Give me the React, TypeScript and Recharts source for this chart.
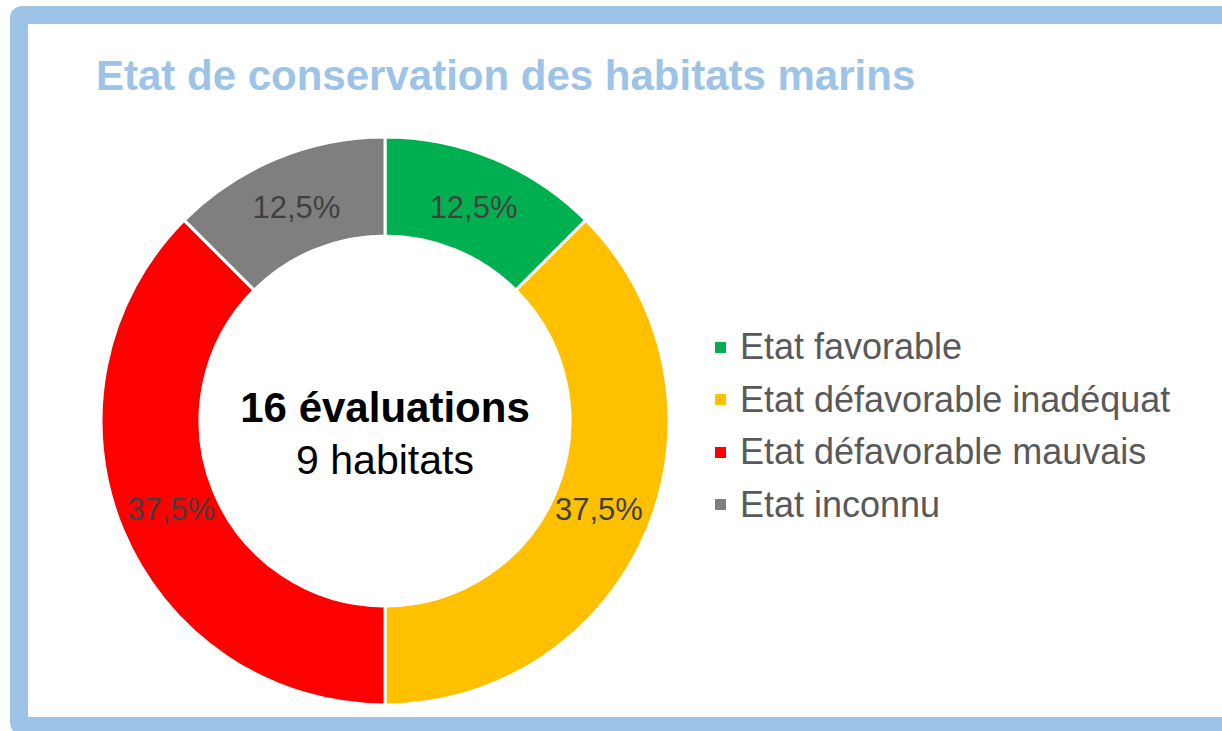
import React from 'react';
import { PieChart, Pie, Cell, Legend } from 'recharts';

const categories = [
  'Etat favorable',
  'Etat défavorable inadéquat',
  'Etat défavorable mauvais',
  'Etat inconnu',
];
const counts = [2, 6, 6, 2];
const colors = ['#00B050', '#FFC000', '#FF0000', '#7F7F7F'];
const titleText = 'Etat de conservation des habitats marins';
const centerLine1 = '16 évaluations';
const centerLine2 = '9 habitats';

const FONT = '"Liberation Sans", Arial, sans-serif';
const total = counts.reduce((a, b) => a + b, 0);
const data = categories.map((name, i) => ({
  name,
  value: counts[i],
  label: ((counts[i] / total) * 100).toFixed(1).replace('.', ',') + '%',
}));

const RAD = Math.PI / 180;
const CX = 385;
const CY = 421;

const renderLabel = (props: any) => {
  const { cx, cy, midAngle, innerRadius, outerRadius, index } = props;
  const r = (innerRadius + outerRadius) / 2 - 3;
  const x = cx + r * Math.cos(-midAngle * RAD);
  const y = cy + r * Math.sin(-midAngle * RAD);
  return (
    <text
      x={x}
      y={y}
      textAnchor="middle"
      dominantBaseline="central"
      fill="#404040"
      fontFamily={FONT}
      fontSize={31}
    >
      {data[index].label}
    </text>
  );
};

const renderLegend = () => {
  return (
    <div style={{ fontFamily: FONT }}>
      {data.map((d, i) => (
        <div
          key={d.name}
          style={{
            display: 'flex',
            alignItems: 'center',
            height: 52.5,
            fontSize: 36,
            color: '#595959',
            whiteSpace: 'nowrap',
          }}
        >
          <span
            style={{
              display: 'inline-block',
              width: 11,
              height: 11,
              background: colors[i],
              marginRight: 14,
            }}
          />
          <span>{d.name}</span>
        </div>
      ))}
    </div>
  );
};

export default function App() {
  return (
    <div
      style={{
        position: 'absolute',
        left: 0,
        top: 0,
        width: 1222,
        height: 731,
        overflow: 'hidden',
        background: '#ffffff',
      }}
    >
      <div
        style={{
          position: 'absolute',
          left: 10,
          top: 6,
          width: 1250,
          height: 729,
          boxSizing: 'border-box',
          border: '18px solid #9DC3E6',
          borderRadius: 12,
          background: '#ffffff',
        }}
      />
      <div
        style={{
          position: 'absolute',
          left: 96,
          top: 55,
          fontFamily: FONT,
          fontSize: 42,
          lineHeight: '42px',
          fontWeight: 'bold',
          color: '#9DC3E6',
          whiteSpace: 'nowrap',
        }}
      >
        {titleText}
      </div>
      <div style={{ position: 'absolute', left: 0, top: 0 }}>
        <PieChart width={1222} height={731} margin={{ top: 0, right: 0, bottom: 0, left: 0 }}>
          <Pie
            data={data}
            dataKey="value"
            nameKey="name"
            cx={CX}
            cy={CY}
            innerRadius={185}
            outerRadius={284}
            startAngle={90}
            endAngle={-270}
            stroke="#ffffff"
            strokeWidth={3}
            label={renderLabel}
            labelLine={false}
            isAnimationActive={false}
          >
            {data.map((d, i) => (
              <Cell key={d.name} fill={colors[i]} />
            ))}
          </Pie>
          <Legend
            layout="vertical"
            content={renderLegend}
            wrapperStyle={{ position: 'absolute', left: 715, top: 321, width: 500 }}
          />
        </PieChart>
      </div>
      <div
        style={{
          position: 'absolute',
          left: CX - 200,
          width: 400,
          top: 387,
          textAlign: 'center',
          fontFamily: FONT,
          fontSize: 42,
          lineHeight: '41px',
          fontWeight: 'bold',
          color: '#000000',
          whiteSpace: 'nowrap',
        }}
      >
        {centerLine1}
      </div>
      <div
        style={{
          position: 'absolute',
          left: CX - 200,
          width: 400,
          top: 440,
          textAlign: 'center',
          fontFamily: FONT,
          fontSize: 41,
          lineHeight: '41px',
          color: '#000000',
          whiteSpace: 'nowrap',
        }}
      >
        {centerLine2}
      </div>
    </div>
  );
}
